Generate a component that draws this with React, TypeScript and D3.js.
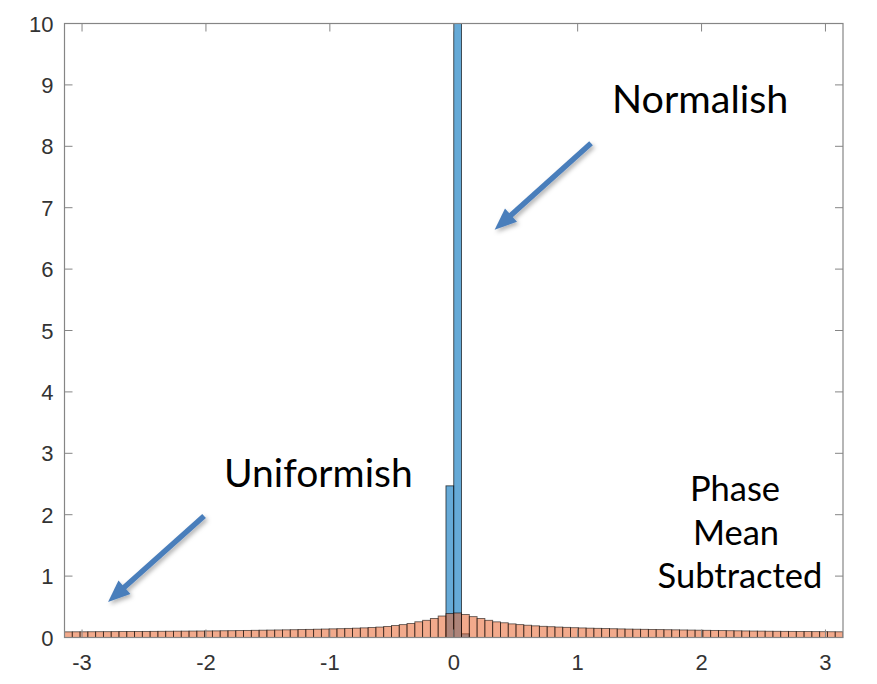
import React from "react";
import * as d3 from "d3";

// Histogram bin layout: 100 equal bins spanning [-pi, pi]
const BIN_COUNT = 100;
const X_MIN = -Math.PI;
const X_MAX = Math.PI;

// Phase (mean subtracted) — pdf-normalised histogram, spread out across the circle
const uniformishValues: number[] = [
  0.092, 0.093, 0.093, 0.094, 0.095, 0.095, 0.096, 0.097, 0.098, 0.098,
  0.099, 0.100, 0.101, 0.102, 0.103, 0.104, 0.105, 0.106, 0.107, 0.108,
  0.110, 0.111, 0.113, 0.115, 0.117, 0.119, 0.121, 0.123, 0.125, 0.127,
  0.130, 0.132, 0.135, 0.138, 0.141, 0.144, 0.148, 0.152, 0.157, 0.163,
  0.170, 0.180, 0.195, 0.210, 0.228, 0.256, 0.280, 0.310, 0.350, 0.390,
  0.400, 0.375, 0.340, 0.310, 0.280, 0.255, 0.240, 0.222, 0.210, 0.200,
  0.190, 0.182, 0.176, 0.170, 0.165, 0.160, 0.156, 0.152, 0.149, 0.146,
  0.143, 0.140, 0.137, 0.135, 0.133, 0.131, 0.129, 0.127, 0.125, 0.123,
  0.121, 0.119, 0.117, 0.115, 0.113, 0.111, 0.109, 0.107, 0.105, 0.104,
  0.102, 0.101, 0.100, 0.099, 0.098, 0.097, 0.096, 0.095, 0.094, 0.093,
];

// Concentrated histogram: only a few bins around zero are non-empty
const normalishBins: number[] = [49, 50, 51];
const normalishValues: number[] = [2.47, 13.4, 0.06];

const xTicks: number[] = [-3, -2, -1, 0, 1, 2, 3];
const yTicks: number[] = [0, 1, 2, 3, 4, 5, 6, 7, 8, 9, 10];

const WIDTH = 877;
const HEIGHT = 684;
const M = { left: 64.5, right: 34, top: 23.5, bottom: 46.5 };

const BLUE = "rgb(0,114,189)";
const ORANGE = "rgb(232,100,45)";
const ARROW = "#4a7ebb";

export default function App() {
  const x = d3.scaleLinear().domain([X_MIN, X_MAX]).range([M.left, WIDTH - M.right]);
  const y = d3.scaleLinear().domain([0, 10]).range([HEIGHT - M.bottom, M.top]);
  const binW = (X_MAX - X_MIN) / BIN_COUNT;
  const edge = (i: number) => X_MIN + i * binW;

  const x0 = x.range()[0];
  const x1 = x.range()[1];
  const y0 = y.range()[0];
  const y1 = y.range()[1];
  const tickLen = 8;
  const axisColor = "#858585";
  const labelColor = "#333";

  const arrows = [
    { from: [1.108, 8.05], to: [0.33, 6.64] },
    { from: [-2.015, 1.98], to: [-2.79, 0.58] },
  ];

  const arrowPath = (a: { from: number[]; to: number[] }) => {
    const sx = x(a.from[0]);
    const sy = y(a.from[1]);
    const tx = x(a.to[0]);
    const ty = y(a.to[1]);
    const ang = Math.atan2(ty - sy, tx - sx);
    const headLen = 22;
    const headHalf = 9;
    const bx = tx - headLen * Math.cos(ang);
    const by = ty - headLen * Math.sin(ang);
    const px = -Math.sin(ang);
    const py = Math.cos(ang);
    const shaft = d3.path();
    shaft.moveTo(sx, sy);
    shaft.lineTo(bx + 2 * Math.cos(ang), by + 2 * Math.sin(ang));
    const head = d3.path();
    head.moveTo(tx, ty);
    head.lineTo(bx + px * headHalf, by + py * headHalf);
    head.lineTo(bx - px * headHalf, by - py * headHalf);
    head.closePath();
    return { shaft: shaft.toString(), head: head.toString() };
  };

  const tickFont = "'Liberation Sans', Arial, Helvetica, sans-serif";
  const noteFont = "Lato, 'Open Sans', sans-serif";

  return (
    <svg
      width={WIDTH}
      height={HEIGHT}
      style={{ position: "absolute", left: 0, top: 0, background: "#fff" }}
    >
      <defs>
        <clipPath id="plotClip">
          <rect x={x0} y={y1} width={x1 - x0} height={y0 - y1} />
        </clipPath>
        <filter id="softShadow" x="-20%" y="-20%" width="140%" height="140%">
          <feDropShadow dx="2" dy="2.5" stdDeviation="2" floodColor="#000" floodOpacity="0.3" />
        </filter>
      </defs>

      <g clipPath="url(#plotClip)">
        {normalishBins.map((b, i) => (
          <rect
            key={`n${b}`}
            x={x(edge(b))}
            y={y(normalishValues[i])}
            width={x(edge(b + 1)) - x(edge(b))}
            height={y(0) - y(normalishValues[i])}
            fill={BLUE}
            fillOpacity={0.6}
            stroke="#000"
            strokeOpacity={0.7}
            strokeWidth={0.9}
          />
        ))}
        {uniformishValues.map((v, i) => (
          <rect
            key={`u${i}`}
            x={x(edge(i))}
            y={y(v)}
            width={x(edge(i + 1)) - x(edge(i))}
            height={y(0) - y(v)}
            fill={ORANGE}
            fillOpacity={0.55}
            stroke="#000"
            strokeOpacity={0.6}
            strokeWidth={0.9}
          />
        ))}
      </g>

      {/* axes box */}
      <rect x={x0} y={y1} width={x1 - x0} height={y0 - y1} fill="none" stroke={axisColor} strokeWidth={1.2} />

      {xTicks.map((t) => (
        <g key={`xt${t}`}>
          <line x1={x(t)} x2={x(t)} y1={y0} y2={y0 - tickLen} stroke={axisColor} strokeWidth={1} />
          <line x1={x(t)} x2={x(t)} y1={y1} y2={y1 + tickLen} stroke={axisColor} strokeWidth={1} />
          <text
            x={x(t)}
            y={y0 + 32}
            textAnchor="middle"
            fontFamily={tickFont}
            fontSize={22}
            fill={labelColor}
          >
            {t}
          </text>
        </g>
      ))}

      {yTicks.map((t) => (
        <g key={`yt${t}`}>
          <line x1={x0} x2={x0 + tickLen} y1={y(t)} y2={y(t)} stroke={axisColor} strokeWidth={1} />
          <line x1={x1} x2={x1 - tickLen} y1={y(t)} y2={y(t)} stroke={axisColor} strokeWidth={1} />
          <text
            x={x0 - 11}
            y={y(t) + 8}
            textAnchor="end"
            fontFamily={tickFont}
            fontSize={22}
            fill={labelColor}
          >
            {t}
          </text>
        </g>
      ))}

      {/* annotations */}
      {arrows.map((a, i) => {
        const p = arrowPath(a);
        return (
          <g key={`ar${i}`} filter="url(#softShadow)">
            <path d={p.shaft} stroke={ARROW} strokeWidth={5.5} fill="none" />
            <path d={p.head} fill={ARROW} />
          </g>
        );
      })}

      <text x={612} y={113} fontFamily={noteFont} fontSize={39.5} fill="#000">
        Normalish
      </text>
      <text x={224} y={487} fontFamily={noteFont} fontSize={39} fill="#000">
        Uniformish
      </text>
      <g fontFamily={noteFont} fontSize={34.5} fill="#000" textAnchor="middle">
        <text x={735} y={501}>Phase</text>
        <text x={736} y={545}>Mean</text>
        <text x={740} y={588}>Subtracted</text>
      </g>
    </svg>
  );
}
